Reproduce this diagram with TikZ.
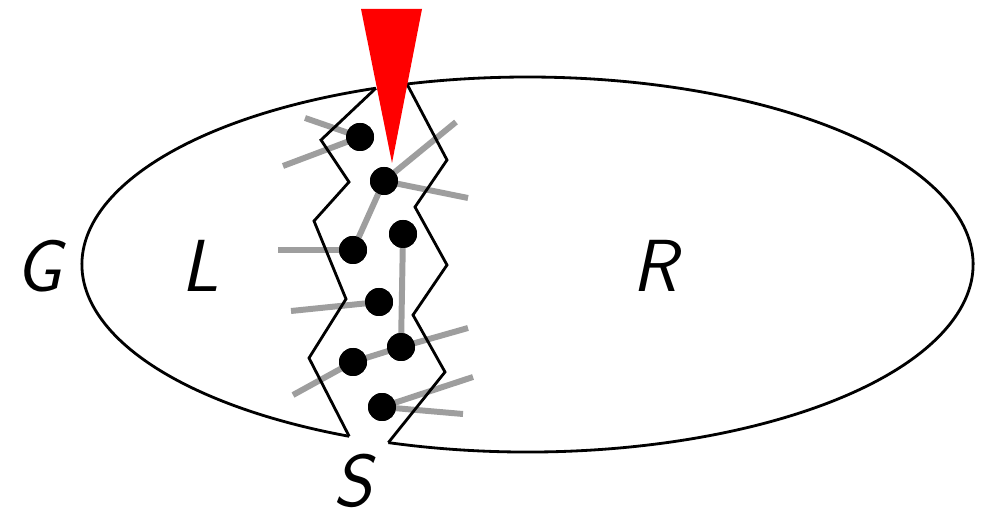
\documentclass[tikz,border=0pt]{standalone}
\begin{document}
\begin{tikzpicture}[x=0.02cm,y=0.02cm,
  rim/.style={line width=1.6pt},
  zig/.style={line width=1.6pt, line join=miter},
  edge/.style={line width=3.4pt, draw=black!38},
  vtx/.style={circle, fill=black, inner sep=0pt, minimum size=0.56cm},
  lab/.style={font=\fontsize{42}{46}\selectfont\sffamily\itshape, inner sep=0pt, anchor=base}]
\useasboundingbox (0,0) rectangle (982,513);
\coordinate (C) at (527.5,248.5);
% ellipse points where the separator meets it
\coordinate (tl) at ([shift={(109.9:445.5 and 187.5)}]C);
\coordinate (tr) at ([shift={(105.7:445.5 and 187.5)}]C);
\coordinate (bl) at ([shift={(246.4:445.5 and 187.5)}]C);
\coordinate (br) at ([shift={(251.8:445.5 and 187.5)}]C);
% ellipse arcs
\draw[rim] (tl) arc[start angle=109.9, end angle=246.4, x radius=445.5, y radius=187.5];
\draw[rim] (br) arc[start angle=251.8, end angle=465.7, x radius=445.5, y radius=187.5];
% vertices
\node[vtx] (d1) at (360,376) {};
\node[vtx] (d2) at (384,332) {};
\node[vtx] (d3) at (403,279) {};
\node[vtx] (d4) at (353,263) {};
\node[vtx] (d5) at (379,211) {};
\node[vtx] (d6) at (401,166) {};
\node[vtx] (d7) at (353,151) {};
\node[vtx] (d8) at (382,106) {};
% free ends of edges
\coordinate (e1) at (305,395);
\coordinate (e2) at (283,347);
\coordinate (e3) at (456,391);
\coordinate (e4) at (468,315);
\coordinate (e5) at (278,263);
\coordinate (e6) at (291,202);
\coordinate (e7) at (468,185);
\coordinate (e8) at (293,118);
\coordinate (e9) at (473,136);
\coordinate (e10) at (463,99);
\draw[edge] (e1) -- (d1.center);
\draw[edge] (e2) -- (d1.center);
\draw[edge] (d2.center) -- (e3);
\draw[edge] (d2.center) -- (e4);
\draw[edge] (d2.center) -- (d4.center);
\draw[edge] (e5) -- (d4.center);
\draw[edge] (d3.center) -- (d6.center);
\draw[edge] (e6) -- (d5.center);
\draw[edge] (d6.center) -- (e7);
\draw[edge] (d6.center) -- (d7.center);
\draw[edge] (e8) -- (d7.center);
\draw[edge] (d8.center) -- (e9);
\draw[edge] (d8.center) -- (e10);
% separator boundary
\draw[zig] (tl) -- (321,373) -- (349,331) -- (314,292) -- (346,214) -- (309,155) -- (bl);
\draw[zig] (tr) -- (447,353) -- (415,306) -- (447,248) -- (413,198) -- (445,141) -- (br);
% redraw vertices on top
\foreach \d in {d1,d2,d3,d4,d5,d6,d7,d8} \fill (\d) circle[radius=0.28cm];
% red wedge
\fill[red] (361,504) -- (422,504) -- (392,350) -- cycle;
% labels
\node[lab] (G) at (39,221) {G};
\node[lab] (L) at (200,221) {L};
\node[lab] (R) at (655,221) {R};
\node[lab] (S) at (353,7) {S};
\end{tikzpicture}
\end{document}
